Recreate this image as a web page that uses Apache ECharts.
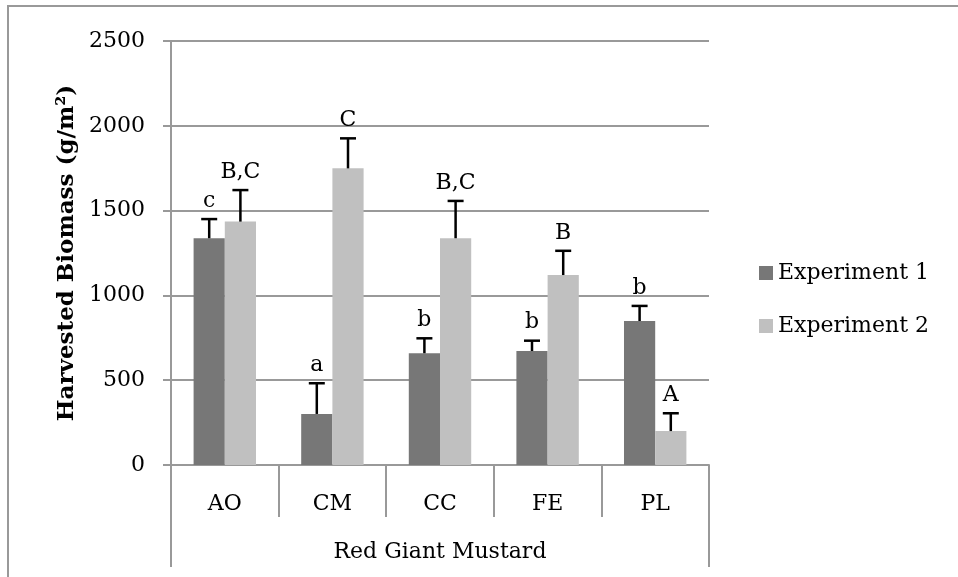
<!DOCTYPE html>
<html>
<head>
<meta charset="utf-8">
<script src="https://cdn.jsdelivr.net/npm/echarts@6/dist/echarts.min.js"></script>
<style>
  html, body { margin: 0; padding: 0; background: #ffffff; }
  #chart { width: 958px; height: 577px; }
</style>
</head>
<body>
<div id="chart"></div>
<script>
// Harvested biomass of Red Giant Mustard by treatment, two experiments
var categories = ['AO', 'CM', 'CC', 'FE', 'PL'];
var groupName = ['Red Giant Mustard'];
var seriesNames = ['Experiment 1', 'Experiment 2'];

// Mean biomass (g/m²)
var exp1Mean = [1337, 301, 659, 672, 849];
var exp2Mean = [1435, 1749, 1337, 1120, 200];

// Upper error (g/m²)
var exp1Err = [113, 181, 88, 61, 89];
var exp2Err = [186, 177, 220, 143, 105];

// Significance letters
var exp1Letters = ['c', 'a', 'b', 'b', 'b'];
var exp2Letters = ['B,C', 'C', 'B,C', 'B', 'A'];

var yTicks = [0, 500, 1000, 1500, 2000, 2500];

var FONT = '"DejaVu Serif", "Liberation Serif", serif';
var GRID_GRAY = '#999999';
var DARK = '#777777';
var LIGHT = '#c0c0c0';
var BAR_FRAC = 0.29; // bar width as a fraction of the category band

function errorData(mean, err) {
  return mean.map(function (m, i) { return [i, m, m + err[i]]; });
}

// Draws an upward error bar with a cap and a letter above it,
// shifted left/right to sit over its bar in the group.
function makeErrorRenderer(side, letters) {
  return function (params, api) {
    var idx = api.value(0);
    var base = api.coord([idx, api.value(1)]);
    var top = api.coord([idx, api.value(2)]);
    var band = api.size([1, 0])[0];
    var cx = base[0] + side * band * BAR_FRAC / 2;
    var half = 8;
    var lineStyle = { stroke: '#000000', lineWidth: 2.5 };
    return {
      type: 'group',
      children: [
        { type: 'line', shape: { x1: cx, y1: base[1], x2: cx, y2: top[1] }, style: lineStyle },
        { type: 'line', shape: { x1: cx - half, y1: top[1], x2: cx + half, y2: top[1] }, style: lineStyle },
        {
          type: 'text',
          style: {
            text: letters[idx],
            x: cx,
            y: top[1] - 7,
            align: 'center',
            verticalAlign: 'bottom',
            font: '22px ' + FONT,
            fill: '#000000'
          }
        }
      ]
    };
  };
}

var chart = echarts.init(document.getElementById('chart'), null, { renderer: 'canvas' });

chart.setOption({
  animation: false,
  backgroundColor: '#ffffff',
  graphic: [
    {
      type: 'rect',
      shape: { x: 8, y: 6, width: 1000, height: 620 },
      style: { fill: 'none', stroke: GRID_GRAY, lineWidth: 2 },
      silent: true,
      z: -1
    }
  ],
  grid: { left: 171, right: 249, top: 41, bottom: 112, containLabel: false },
  legend: {
    orient: 'vertical',
    left: 754,
    top: 257,
    itemWidth: 14,
    itemHeight: 14,
    itemGap: 31,
    icon: 'rect',
    data: seriesNames,
    textStyle: { fontFamily: FONT, fontSize: 22, color: '#000000', lineHeight: 22 }
  },
  xAxis: [
    {
      type: 'category',
      data: categories,
      position: 'bottom',
      axisLine: { show: true, lineStyle: { color: GRID_GRAY, width: 2 } },
      axisTick: { show: true, length: 52, lineStyle: { color: GRID_GRAY, width: 2 } },
      axisLabel: { margin: 28, fontFamily: FONT, fontSize: 22, color: '#000000' },
      splitLine: { show: false }
    },
    {
      type: 'category',
      data: groupName,
      position: 'bottom',
      axisLine: { show: false },
      axisTick: { show: true, length: 102, lineStyle: { color: GRID_GRAY, width: 2 } },
      axisLabel: { margin: 76, fontFamily: FONT, fontSize: 22, color: '#000000' },
      splitLine: { show: false }
    }
  ],
  yAxis: {
    type: 'value',
    min: yTicks[0],
    max: yTicks[yTicks.length - 1],
    interval: 500,
    name: 'Harvested Biomass (g/m²)',
    nameLocation: 'middle',
    nameGap: 92,
    nameTextStyle: { fontFamily: FONT, fontSize: 23, fontWeight: 'bold', color: '#000000' },
    axisLine: { show: true, lineStyle: { color: GRID_GRAY, width: 2 } },
    axisTick: { show: true, length: 8, lineStyle: { color: GRID_GRAY, width: 2 } },
    axisLabel: {
      margin: 26,
      fontFamily: FONT,
      fontSize: 22,
      color: '#000000',
      formatter: function (v) { return String(v); }
    },
    splitLine: { show: true, lineStyle: { color: GRID_GRAY, width: 2 } }
  },
  series: [
    {
      name: seriesNames[0],
      type: 'bar',
      xAxisIndex: 0,
      data: exp1Mean,
      barWidth: (BAR_FRAC * 100) + '%',
      barGap: '0%',
      itemStyle: { color: DARK }
    },
    {
      name: seriesNames[1],
      type: 'bar',
      xAxisIndex: 0,
      data: exp2Mean,
      barWidth: (BAR_FRAC * 100) + '%',
      barGap: '0%',
      itemStyle: { color: LIGHT }
    },
    {
      type: 'custom',
      xAxisIndex: 0,
      renderItem: makeErrorRenderer(-1, exp1Letters),
      data: errorData(exp1Mean, exp1Err),
      encode: { x: 0, y: [1, 2] },
      z: 5,
      silent: true
    },
    {
      type: 'custom',
      xAxisIndex: 0,
      renderItem: makeErrorRenderer(1, exp2Letters),
      data: errorData(exp2Mean, exp2Err),
      encode: { x: 0, y: [1, 2] },
      z: 5,
      silent: true
    }
  ]
});
</script>
</body>
</html>
